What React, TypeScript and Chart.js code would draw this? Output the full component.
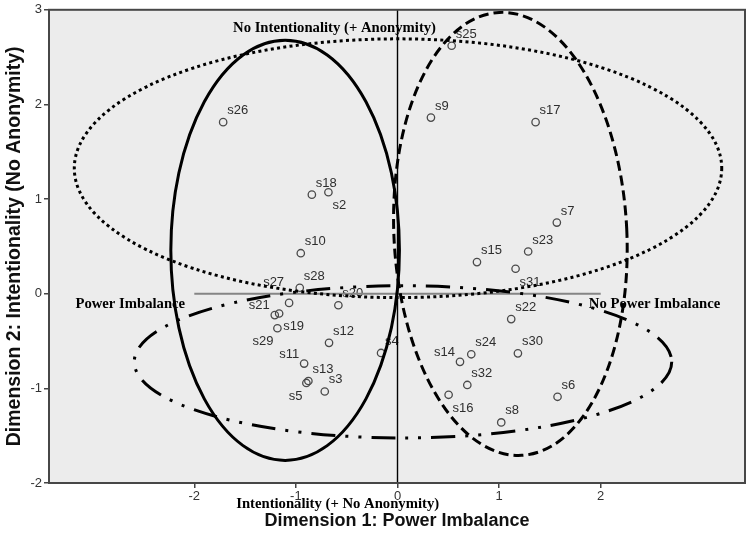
import React, { useEffect, useRef } from 'react';
import { Chart, registerables } from 'chart.js';

Chart.register(...registerables);

// ---- Data ----
const pointLabels = [
  's2', 's3', 's4', 's5', 's6', 's7', 's8', 's9', 's10', 's11',
  's12', 's13', 's14', 's15', 's16', 's17', 's18', 's19', 's20', 's21',
  's22', 's23', 's24', 's25', 's26', 's27', 's28', 's29', 's30', 's31', 's32',
];
const dim1 = [
  -0.68, -0.716, -0.162, -0.897, 1.575, 1.568, 1.021, 0.329, -0.952, -0.919,
  -0.674, -0.877, 0.615, 0.782, 0.503, 1.359, -0.843, -1.165, -0.582, -1.208,
  1.119, 1.286, 0.726, 0.533, -1.716, -1.067, -0.962, -1.182, 1.185, 1.162, 0.687,
];
const dim2 = [
  1.072, -1.033, -0.626, -0.943, -1.089, 0.752, -1.36, 1.861, 0.428, -0.738,
  -0.519, -0.922, -0.72, 0.334, -1.068, 1.813, 1.047, -0.209, -0.122, -0.226,
  -0.268, 0.446, -0.64, 2.62, 1.813, -0.097, 0.063, -0.365, -0.63, 0.264, -0.964,
];
// label placement relative to each point (ne / se / nw / sw / nwh)
const labelPlacement = [
  'se', 'ne', 'ne', 'sw', 'ne', 'ne', 'ne', 'ne', 'ne', 'nw',
  'ne', 'ne', 'nw', 'ne', 'se', 'ne', 'ne', 'se', 'ne', 'nw',
  'ne', 'ne', 'ne', 'ne', 'ne', 'nwh', 'ne', 'sw', 'ne', 'se', 'ne',
];

const xTicks = [-2, -1, 0, 1, 2];
const yTicks = [-2, -1, 0, 1, 2, 3];
const xRange = [-3.43, 3.42];
const yRange = [-2, 3];

// region ellipses (data units): solid, dashed, dotted, dash-dot-dot
const ellipseCenterX = [-1.106, 1.111, 0.005, 0.054];
const ellipseCenterY = [0.459, 0.632, 1.326, -0.72];
const ellipseRadiusX = [1.125, 1.146, 3.186, 2.645];
const ellipseRadiusY = [2.22, 2.343, 1.367, 0.804];

// reference line along dimension 2 = 0
const refLineX = [-2, 2];
const refLineY = 0;

// annotation texts
const annotationTexts = [
  'No Intentionality (+ Anonymity)',
  'Power Imbalance',
  'No Power Imbalance',
  'Intentionality (+ No Anonymity)',
];
const annotationX = [-0.62, -3.17, 1.883, -0.589];
const annotationY = [2.81, -0.11, -0.11, -2.22];
const annotationAlign = ['center', 'left', 'left', 'center'];

// ---- Styles ----
const ellipseDash = [[], [10, 5], [3, 3.3], [24, 10, 3, 10, 3, 10]];
const ellipseRotation = [0, -0.05, 0, 0];
const SANS = '"Liberation Sans", Arial, sans-serif';
const SERIF = '"Liberation Serif", "Times New Roman", serif';

const overlayPlugin = {
  id: 'overlay',
  beforeDraw(chart: any) {
    const { ctx, chartArea: a } = chart;
    ctx.save();
    ctx.fillStyle = '#ECECEC';
    ctx.fillRect(a.left, a.top, a.right - a.left, a.bottom - a.top);
    ctx.restore();
  },
  afterDatasetsDraw(chart: any) {
    const { ctx, chartArea: a } = chart;
    const xs = chart.scales.x;
    const ys = chart.scales.y;
    ctx.save();
    // point labels
    ctx.font = '13px ' + SANS;
    ctx.fillStyle = '#2e2e2e';
    ctx.textBaseline = 'alphabetic';
    pointLabels.forEach((lab, i) => {
      const px = xs.getPixelForValue(dim1[i]);
      const py = ys.getPixelForValue(dim2[i]);
      const p = labelPlacement[i];
      let tx = px + 4;
      let ty = py - 8;
      let align: CanvasTextAlign = 'left';
      if (p === 'se') { tx = px + 4; ty = py + 17; }
      else if (p === 'nw') { tx = px - 5; ty = py - 6; align = 'right'; }
      else if (p === 'nwh') { tx = px - 5; ty = py - 17; align = 'right'; }
      else if (p === 'sw') { tx = px - 4; ty = py + 17; align = 'right'; }
      ctx.textAlign = align;
      ctx.fillText(lab, tx, ty);
    });
    // annotation texts
    ctx.font = 'bold 14.7px ' + SERIF;
    ctx.fillStyle = '#000';
    ctx.textBaseline = 'middle';
    annotationTexts.forEach((t, i) => {
      ctx.textAlign = annotationAlign[i] as CanvasTextAlign;
      ctx.fillText(t, xs.getPixelForValue(annotationX[i]), ys.getPixelForValue(annotationY[i]));
    });
    // clip to plot
    ctx.beginPath();
    ctx.rect(a.left, a.top, a.right - a.left, a.bottom - a.top);
    ctx.clip();
    // reference lines
    ctx.setLineDash([]);
    ctx.strokeStyle = '#858585';
    ctx.lineWidth = 2;
    const y0 = ys.getPixelForValue(refLineY);
    ctx.beginPath();
    ctx.moveTo(xs.getPixelForValue(refLineX[0]), y0);
    ctx.lineTo(xs.getPixelForValue(refLineX[1]), y0);
    ctx.stroke();
    ctx.strokeStyle = '#000';
    ctx.lineWidth = 1.4;
    const x0 = xs.getPixelForValue(0);
    ctx.beginPath();
    ctx.moveTo(x0, a.top);
    ctx.lineTo(x0, a.bottom);
    ctx.stroke();
    // ellipses
    ctx.lineWidth = 3;
    ctx.lineCap = 'butt';
    ellipseCenterX.forEach((ecx, i) => {
      const cx = xs.getPixelForValue(ecx);
      const cy = ys.getPixelForValue(ellipseCenterY[i]);
      const rx = Math.abs(xs.getPixelForValue(ecx + ellipseRadiusX[i]) - cx);
      const ry = Math.abs(ys.getPixelForValue(ellipseCenterY[i] + ellipseRadiusY[i]) - cy);
      ctx.setLineDash(ellipseDash[i]);
      ctx.beginPath();
      ctx.ellipse(cx, cy, rx, ry, ellipseRotation[i], 0, Math.PI * 2);
      ctx.stroke();
    });
    ctx.restore();
  },
  afterDraw(chart: any) {
    const { ctx, chartArea: a } = chart;
    ctx.save();
    ctx.strokeStyle = '#474747';
    ctx.lineWidth = 2;
    ctx.strokeRect(a.left, a.top, a.right - a.left, a.bottom - a.top);
    ctx.restore();
  },
};

export default function App() {
  const ref = useRef<HTMLCanvasElement | null>(null);
  useEffect(() => {
    document.body.style.margin = '0';
    if (!ref.current) return;
    const chart = new Chart(ref.current, {
      type: 'scatter',
      data: {
        datasets: [
          {
            data: dim1.map((v, i) => ({ x: v, y: dim2[i] })),
            pointRadius: 3.7,
            pointHoverRadius: 3.7,
            pointBorderWidth: 1.3,
            pointBorderColor: '#4a4a4a',
            pointBackgroundColor: 'rgba(0,0,0,0)',
          },
        ],
      },
      options: {
        animation: false,
        responsive: false,
        devicePixelRatio: 1,
        layout: { padding: { top: 4, right: 4, left: 0, bottom: 0 } },
        plugins: { legend: { display: false }, tooltip: { enabled: false } },
        scales: {
          x: {
            type: 'linear',
            position: 'bottom',
            min: xRange[0],
            max: xRange[1],
            afterBuildTicks: (s: any) => { s.ticks = xTicks.map((v) => ({ value: v })); },
            afterFit: (s: any) => { s.height = 50; },
            grid: { display: true, drawOnChartArea: false, drawTicks: true, tickLength: 5, color: '#444', lineWidth: 1.5 },
            border: { display: false },
            ticks: { font: { family: SANS, size: 13 }, color: '#333', padding: 1, maxRotation: 0, autoSkip: false },
            title: {
              display: true,
              text: 'Dimension 1: Power Imbalance',
              font: { family: SANS, size: 18, weight: 'bold', lineHeight: 1.2 },
              color: '#111',
              padding: { top: 0, bottom: 1 },
            },
          },
          y: {
            type: 'linear',
            min: yRange[0],
            max: yRange[1],
            afterBuildTicks: (s: any) => { s.ticks = yTicks.map((v) => ({ value: v })); },
            afterFit: (s: any) => { s.width = 49; },
            grid: { display: true, drawOnChartArea: false, drawTicks: true, tickLength: 5, color: '#444', lineWidth: 1.5 },
            border: { display: false },
            ticks: { font: { family: SANS, size: 13 }, color: '#333', padding: 2, autoSkip: false },
            title: {
              display: true,
              text: 'Dimension 2: Intentionality (No Anonymity)',
              font: { family: SANS, size: 19.5, weight: 'bold', lineHeight: 1.2 },
              color: '#111',
              padding: { top: 3.3, bottom: 0 },
            },
          },
        },
      },
      plugins: [overlayPlugin],
    } as any);
    return () => chart.destroy();
  }, []);
  return <canvas ref={ref} width={750} height={533} style={{ display: 'block' }} />;
}
